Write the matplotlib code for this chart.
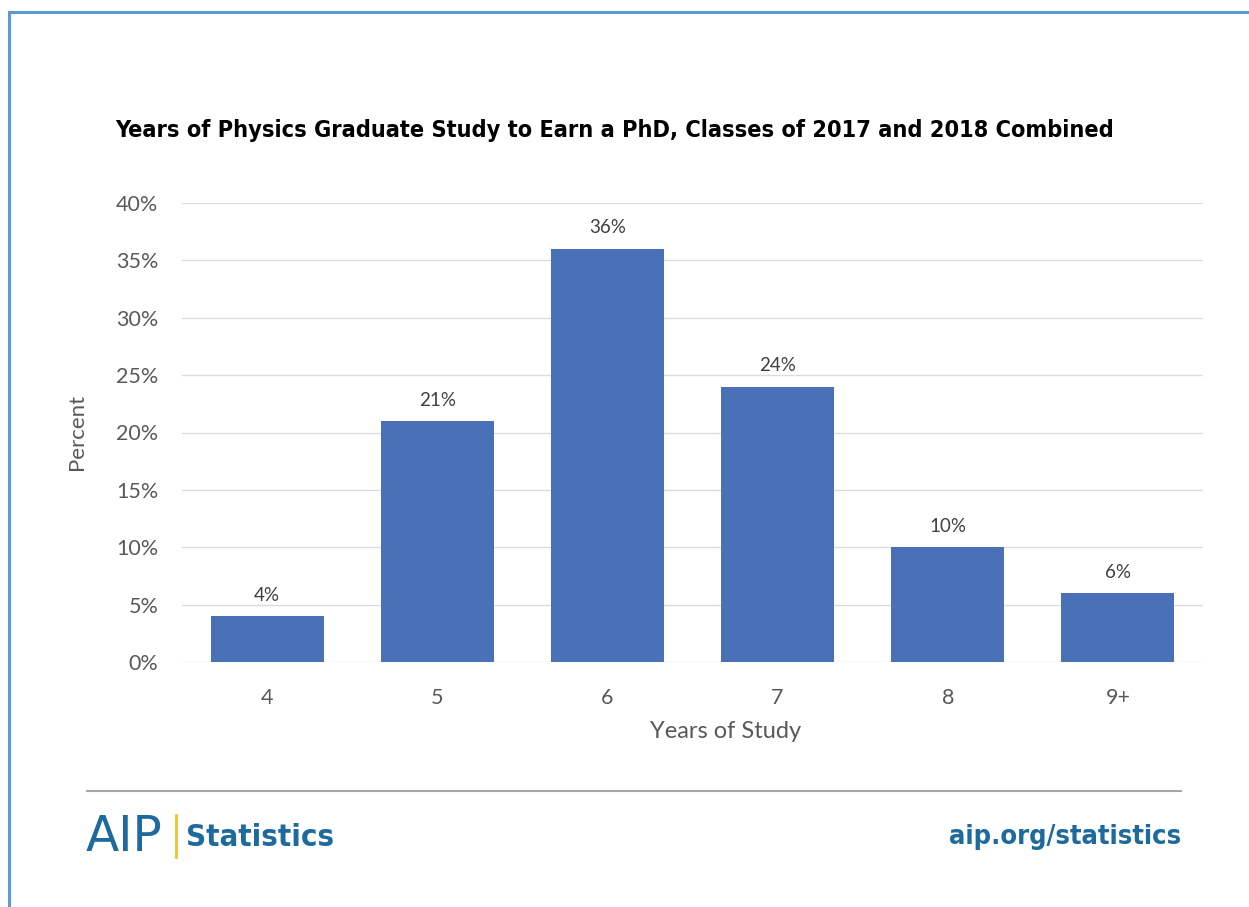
import matplotlib
matplotlib.use("Agg")
import matplotlib.pyplot as plt
from matplotlib.lines import Line2D

# share of PhDs by years of graduate study (classes of 2017 + 2018)
years = ["4", "5", "6", "7", "8", "9+"]
percent = [4, 21, 36, 24, 10, 6]
y_ticks = [0, 5, 10, 15, 20, 25, 30, 35, 40]

bar_color = "#4a71b7"
text_gray = "#595959"
grid_gray = "#dcdcdc"
aip_blue = "#1c6a9e"
narrow = ["DejaVu Sans"]
body = ["Lato", "DejaVu Sans"]

W, H = 1249, 907
fig = plt.figure(figsize=(W / 100, H / 100), dpi=100)
fig.patch.set_facecolor("white")

ax = fig.add_axes([182 / W, 1 - 662 / H, (1203 - 182) / W, (662 - 203) / H])
x = range(len(years))
bars = ax.bar(x, percent, width=0.665, color=bar_color, zorder=3)
ax.set_xlim(-0.5, len(years) - 0.5)
ax.set_ylim(0, 40)
ax.set_yticks(y_ticks)
ax.set_yticklabels([f"{v}%" for v in y_ticks], family=body, fontsize=15.5, color=text_gray)
ax.set_xticks(list(x))
ax.set_xticklabels(years, family=body, fontsize=15.5, color=text_gray)
ax.tick_params(axis="both", length=0)
ax.tick_params(axis="y", pad=17)
ax.tick_params(axis="x", pad=19)
ax.grid(axis="y", color=grid_gray, linewidth=1.0, zorder=0)
for s in ax.spines.values():
    s.set_visible(False)

for b, v in zip(bars, percent):
    ax.annotate(f"{v}%", (b.get_x() + b.get_width() / 2, v), xytext=(0, 9),
                textcoords="offset points", ha="center", va="bottom",
                family=body, fontsize=13.5, color="#404040")

fig.text(77 / W, 1 - 432 / H, "Percent", rotation=90, ha="center", va="center",
         family=body, fontsize=16, color=text_gray)
fig.text(726 / W, 1 - 732 / H, "Years of Study", ha="center", va="center",
         family=body, fontsize=17, color=text_gray)

fig.text(615 / W, 1 - 131 / H,
         "Years of Physics Graduate Study to Earn a PhD, Classes of 2017 and 2018 Combined",
         ha="center", va="center", family=narrow, fontweight="bold", fontstretch="condensed",
         fontsize=16.8, color="black")

# frame on the top and left edge
fig.add_artist(Line2D([9 / W, 1], [1 - 12 / H, 1 - 12 / H], color="#5b9bd5", lw=2.2))
fig.add_artist(Line2D([9 / W, 9 / W], [0, 1 - 12 / H], color="#5b9bd5", lw=2.2))

# footer
fig.add_artist(Line2D([87 / W, 1181 / W], [1 - 791 / H, 1 - 791 / H], color="#a6a6a6", lw=1.5))
fig.text(86 / W, 1 - 837 / H, "AIP", ha="left", va="center", family=["DejaVu Sans"],
         fontsize=35, color=aip_blue)
fig.add_artist(Line2D([176 / W, 176 / W], [1 - 857 / H, 1 - 815 / H], color="#f2c230", lw=2))
fig.text(186 / W, 1 - 837 / H, "Statistics", ha="left", va="center", family=narrow,
         fontweight="bold", fontstretch="condensed", fontsize=22.3, color=aip_blue)
fig.text(1181 / W, 1 - 837 / H, "aip.org/statistics", ha="right", va="center", family=narrow,
         fontweight="bold", fontstretch="condensed", fontsize=19.5, color=aip_blue)

fig.savefig("out.png", dpi=100, facecolor="white")
